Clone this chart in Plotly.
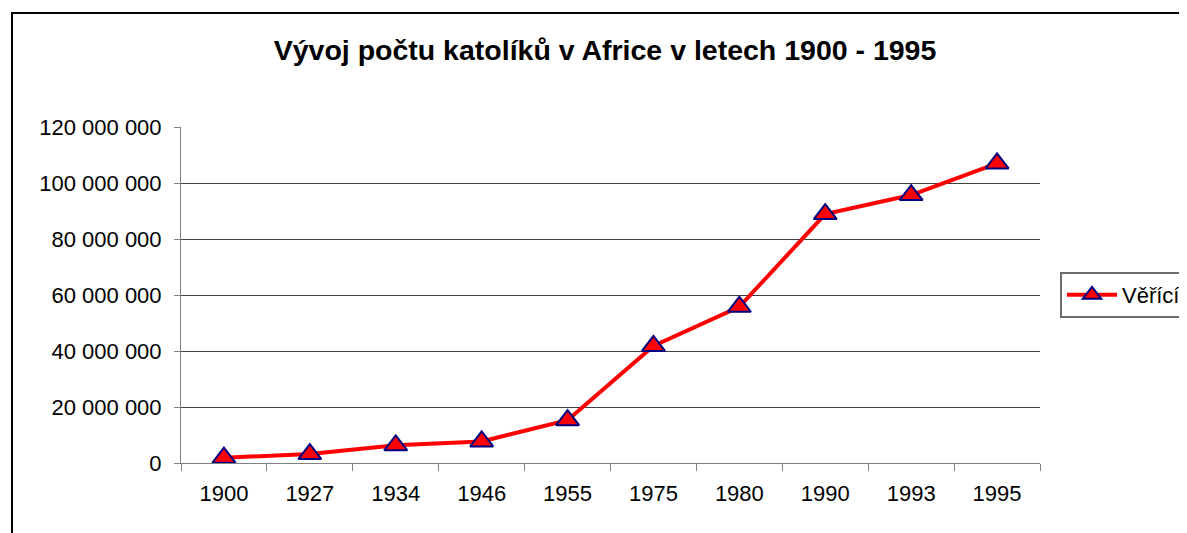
import plotly.graph_objects as go

years = ["1900", "1927", "1934", "1946", "1955", "1975", "1980", "1990", "1993", "1995"]
believers = [1900000, 3200000, 6300000, 7700000, 15300000, 41800000, 55800000, 88900000, 95700000, 107000000]
series_name = "Věřící"
title_text = "Vývoj počtu katolíků v Africe v letech 1900 - 1995"
y_ticks = [0, 20000000, 40000000, 60000000, 80000000, 100000000, 120000000]

OFF = 8  # page body margin
W, H = 1187 - OFF, 533 - OFF
L, R, T, B = 181 - OFF, 1040 - OFF, 127 - OFF, 463 - OFF
pw, ph = R - L, B - T

def px_x(v):
    return (v - OFF - L) / pw

def px_y(v):
    return (B - (v - OFF)) / ph

FONT = "Arial, 'Liberation Sans', sans-serif"

fig = go.Figure()
fig.add_trace(go.Scatter(
    x=years, y=believers, name=series_name, mode="lines+markers",
    line=dict(color="#FF0000", width=4),
    marker=dict(symbol="triangle-up", size=20, color="#FF0000",
                line=dict(color="#000080", width=2)),
    cliponaxis=False,
))

fig.update_layout(
    width=W, height=H,
    margin=dict(l=L, r=W - R, t=T, b=H - B, pad=0, autoexpand=False),
    paper_bgcolor="white", plot_bgcolor="white",
    separators=", ",
    font=dict(family=FONT, size=22, color="black"),
    title=dict(text="<b>" + title_text + "</b>", x=(605 - OFF) / W,
               xanchor="center", y=1 - (50 - OFF) / H, yanchor="middle",
               font=dict(family=FONT, size=28.5, color="black")),
    showlegend=True,
    legend=dict(x=px_x(1060), xanchor="left", y=0.5, yanchor="middle",
                bgcolor="white", bordercolor="#6e6e6e", borderwidth=2,
                font=dict(family=FONT, size=22, color="black"),
                itemwidth=50),
    xaxis=dict(type="category", categoryorder="array", categoryarray=years,
               range=[-0.5, len(years) - 0.5],
               showgrid=False, zeroline=False,
               showline=True, linecolor="#808080", linewidth=1,
               ticks="outside", tickson="boundaries", ticklen=7, tickcolor="#808080",
               ticklabelstandoff=11,
               tickfont=dict(family=FONT, size=22, color="black")),
    yaxis=dict(range=[0, 120000000], tickvals=y_ticks, tickformat=",d",
               showgrid=True, gridcolor="#404040", gridwidth=1,
               zeroline=False,
               showline=True, linecolor="#808080", linewidth=1,
               ticks="outside", ticklen=6, tickcolor="#808080",
               ticklabelstandoff=8,
               tickfont=dict(family=FONT, size=22, color="black")),
    shapes=[dict(type="rect", xref="paper", yref="paper",
                 x0=px_x(12), x1=px_x(1300), y0=px_y(700), y1=px_y(13),
                 line=dict(color="black", width=2), fillcolor="rgba(0,0,0,0)",
                 layer="above")],
)

fig.write_html("out.html")
